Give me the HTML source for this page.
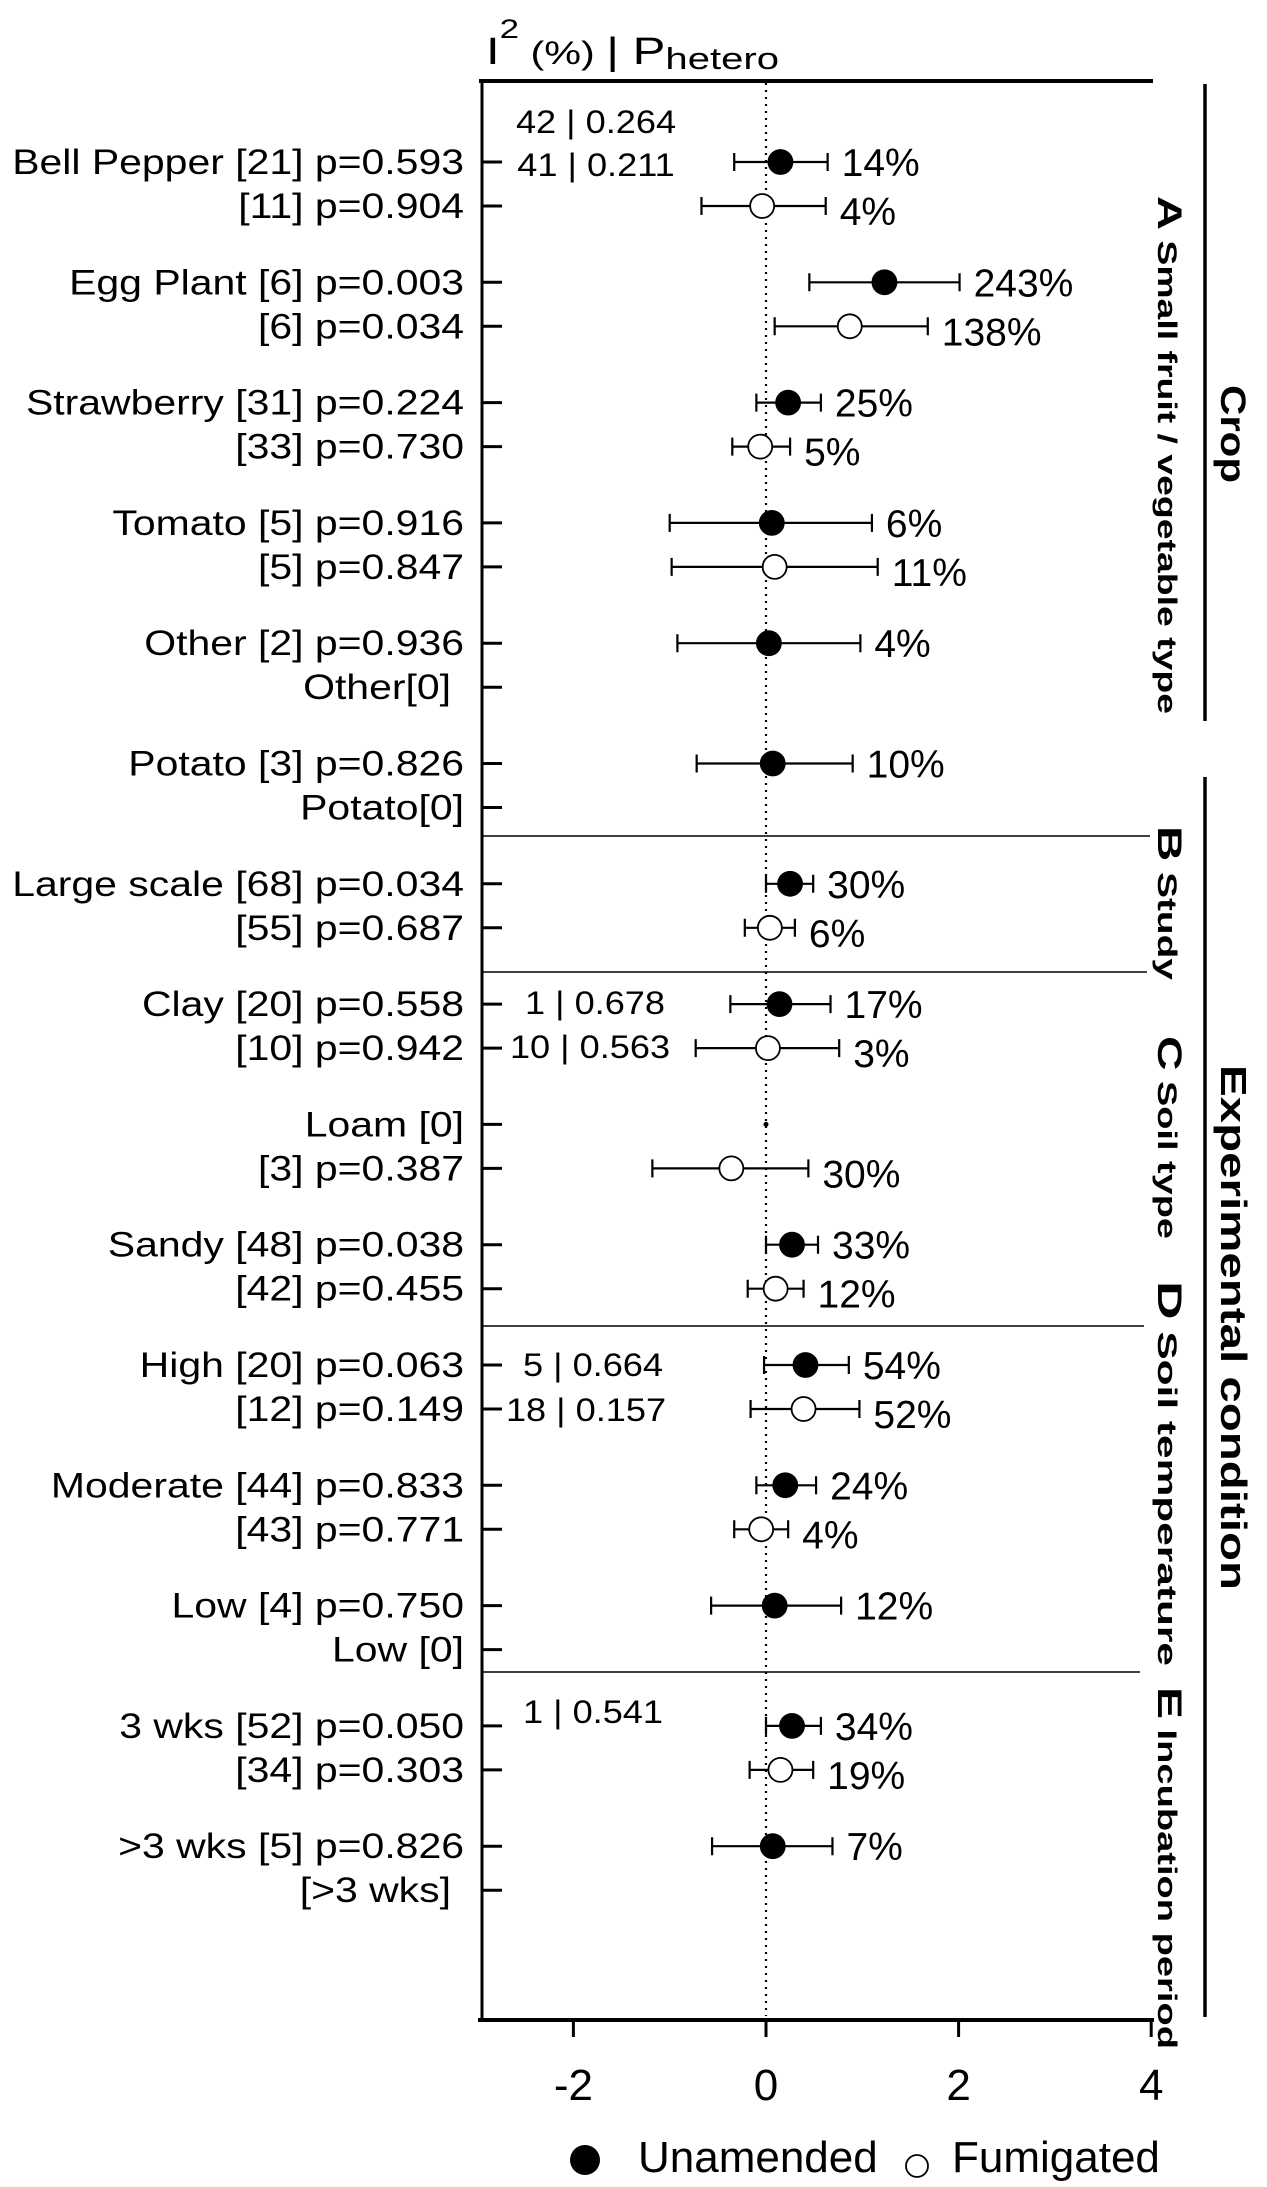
<!DOCTYPE html>
<html><head><meta charset="utf-8"><style>
html,body{margin:0;padding:0;background:#fff;}
svg{display:block;font-family:"Liberation Sans",Arial,sans-serif;}
</style></head><body>
<svg id="chart" width="1267" height="2187" viewBox="0 0 1267 2187" xmlns="http://www.w3.org/2000/svg">
  <g>
    <text x="486" y="64" font-size="38" textLength="293" lengthAdjust="spacingAndGlyphs">I<tspan font-size="27" dy="-26">2</tspan><tspan font-size="32" dy="26"> (%) </tspan><tspan font-size="38">| P</tspan><tspan font-size="31" dy="5">hetero</tspan></text>
  </g>
  <line x1="479" y1="81" x2="1153" y2="81" stroke="#000" stroke-width="4"/>
  <line x1="482" y1="79" x2="482" y2="2021" stroke="#000" stroke-width="3"/>
  <line x1="478" y1="2020" x2="1154" y2="2020" stroke="#000" stroke-width="4"/>
  <g id="sections">
    <line x1="482" y1="836" x2="1150" y2="836" stroke="#000" stroke-width="1.6"/>
    <line x1="482" y1="972" x2="1147" y2="972" stroke="#000" stroke-width="1.6"/>
    <line x1="482" y1="1326" x2="1144" y2="1326" stroke="#000" stroke-width="1.6"/>
    <line x1="482" y1="1672" x2="1140" y2="1672" stroke="#000" stroke-width="1.6"/>
  </g>
  <g id="xaxis"></g>
  <g id="refline"></g>
  <g id="ticks"></g>
  <g id="labels"></g>
  <g id="marks"></g>
  <g font-size="32">
    <text transform="translate(596,133) scale(1.13,1)" text-anchor="middle">42 | 0.264</text>
    <text transform="translate(596,176) scale(1.13,1)" text-anchor="middle">41 | 0.211</text>
    <text transform="translate(595,1014) scale(1.13,1)" text-anchor="middle">1 | 0.678</text>
    <text transform="translate(590,1058) scale(1.13,1)" text-anchor="middle">10 | 0.563</text>
    <text transform="translate(593,1376) scale(1.13,1)" text-anchor="middle">5 | 0.664</text>
    <text transform="translate(586,1421) scale(1.13,1)" text-anchor="middle">18 | 0.157</text>
    <text transform="translate(593,1723) scale(1.13,1)" text-anchor="middle">1 | 0.541</text>
  </g>
  <g font-weight="bold">
    <line x1="1205" y1="84" x2="1205" y2="721" stroke="#000" stroke-width="3.5"/>
    <line x1="1205" y1="777" x2="1205" y2="2017" stroke="#000" stroke-width="3.5"/>
    <text transform="translate(1221,385) rotate(90)" font-size="35" textLength="98" lengthAdjust="spacingAndGlyphs">Crop</text>
    <text transform="translate(1221,1065) rotate(90)" font-size="36" textLength="525" lengthAdjust="spacingAndGlyphs">Experimental condition</text>
    <text transform="translate(1158,196) rotate(90)" font-size="27" textLength="518" lengthAdjust="spacingAndGlyphs"><tspan font-size="34">A</tspan> Small fruit / vegetable type</text>
    <text transform="translate(1158,826) rotate(90)" font-size="27" textLength="154" lengthAdjust="spacingAndGlyphs"><tspan font-size="34">B</tspan> Study</text>
    <text transform="translate(1158,1036) rotate(90)" font-size="27" textLength="203" lengthAdjust="spacingAndGlyphs"><tspan font-size="34">C</tspan> Soil type</text>
    <text transform="translate(1158,1281) rotate(90)" font-size="27" textLength="385" lengthAdjust="spacingAndGlyphs"><tspan font-size="34">D</tspan> Soil temperature</text>
    <text transform="translate(1158,1687) rotate(90)" font-size="27" textLength="362" lengthAdjust="spacingAndGlyphs"><tspan font-size="34">E</tspan> Incubation period</text>
  </g>
  <g>
    <circle cx="585" cy="2160" r="15" fill="#000"/>
    <text x="638" y="2172" font-size="44">Unamended</text>
    <circle cx="917" cy="2166" r="11" fill="#fff" stroke="#000" stroke-width="1.8"/>
    <text x="952" y="2172" font-size="44">Fumigated</text>
  </g>
</svg>
<script>
const rowLabelsA = ["Bell Pepper [21] p=0.593","Egg Plant [6] p=0.003","Strawberry [31] p=0.224","Tomato [5] p=0.916","Other [2] p=0.936","Potato [3] p=0.826","Large scale [68] p=0.034","Clay  [20] p=0.558","Loam [0]","Sandy [48] p=0.038","High [20] p=0.063","Moderate [44] p=0.833","Low [4] p=0.750","3 wks [52] p=0.050",">3 wks [5] p=0.826"];
const rowLabelsB = ["[11] p=0.904","[6] p=0.034","[33] p=0.730","[5] p=0.847","Other[0]","Potato[0]","[55] p=0.687","[10] p=0.942","[3] p=0.387","[42] p=0.455","[12] p=0.149","[43] p=0.771","Low [0]","[34] p=0.303","[>3 wks]"];
const unEst = [0.15,1.23,0.23,0.06,0.03,0.07,0.25,0.14,0,0.27,0.41,0.20,0.09,0.27,0.07];
const unLo  = [-0.33,0.45,-0.10,-1.00,-0.92,-0.72,0.00,-0.37,null,0.00,-0.02,-0.10,-0.57,0.00,-0.56];
const unHi  = [0.64,2.01,0.57,1.10,0.98,0.90,0.49,0.67,null,0.54,0.86,0.52,0.78,0.57,0.69];
const unPct = ["14%","243%","25%","6%","4%","10%","30%","17%",null,"33%","54%","24%","12%","34%","7%"];
const fuEst = [-0.04,0.87,-0.06,0.09,null,null,0.04,0.02,-0.36,0.10,0.39,-0.05,null,0.15,null];
const fuLo  = [-0.67,0.09,-0.35,-0.98,null,null,-0.22,-0.73,-1.18,-0.19,-0.16,-0.33,null,-0.17,null];
const fuHi  = [0.62,1.68,0.25,1.16,null,null,0.30,0.76,0.44,0.39,0.97,0.23,null,0.49,null];
const fuPct = ["4%","138%","5%","11%",null,null,"6%","3%","30%","12%","52%","4%",null,"19%",null];
const xTicks = [-2,0,2,4];
const xTickLabels = ["-2","0","2","4"];

const NS = "http://www.w3.org/2000/svg";
function xs(v){ return 766 + v*96.3; }
function yA(i){ return 162 + i*120.3; }
function yB(i){ return yA(i) + 44; }
function mk(tag, attrs, parent){
  const e = document.createElementNS(NS, tag);
  for (const k in attrs) e.setAttribute(k, attrs[k]);
  parent.appendChild(e);
  return e;
}
const gx = document.getElementById('xaxis');
xTicks.forEach((t,i)=>{
  const l = mk('line',{x1:xs(t),x2:xs(t),y1:2020,y2:2037,stroke:'#000','stroke-width':3},gx);
  
  
  const tx = mk('text',{x:xs(t),y:2100,'font-size':44,'text-anchor':'middle'},gx);
  tx.textContent = xTickLabels[i];
  
  
});
const gr = document.getElementById('refline');
const rl = mk('line',{x1:xs(0),x2:xs(0),y1:83,y2:2016,stroke:'#000','stroke-width':2.2,'stroke-dasharray':'2 5'},gr);



const gt = document.getElementById('ticks');
const gl = document.getElementById('labels');
const gm = document.getElementById('marks');
function rowLabel(txt, y, right){
  const t = mk('text',{transform:`translate(${right},${y+12}) scale(1.17,1)`,'font-size':35,'text-anchor':'end'},gl);
  t.textContent = txt;
  
  
}
function drawSeries(est, lo, hi, pct, i, y, filled){
  if (est[i] === null) return;
  if (lo[i] === null) {
    const d = mk('circle',{cx:xs(est[i]),cy:y,r:2.5,fill:'#000'},gm);
    
    
    return;
  }
  const x1 = xs(lo[i]), x2 = xs(hi[i]);
  const ci = mk('path',{d:`M${x1},${y}H${x2}M${x1},${y-9}V${y+9}M${x2},${y-9}V${y+9}`,stroke:'#000','stroke-width':2.2,fill:'none'},gm);
  
  
  const c = mk('circle',{cx:xs(est[i]),cy:y,r:12,fill:filled?'#000':'#fff',stroke:'#000','stroke-width':1.8},gm);
  
  
  if (pct[i]) {
    const t = mk('text',{x:x2+14,y:y+(filled?14:19),'font-size':39},gm);
    t.textContent = pct[i];
    
    
  }
}
const rightEdgeB = ["Other[0]","[>3 wks]"];
rowLabelsA.forEach((lab,i)=>{
  const ya = yA(i), yb = yB(i);
  [ya,yb].forEach(y=>{
    const tk = mk('line',{x1:482,x2:502,y1:y,y2:y,stroke:'#000','stroke-width':3},gt);
    
    
  });
  rowLabel(lab, ya, 464);
  rowLabel(rowLabelsB[i], yb, rightEdgeB.includes(rowLabelsB[i]) ? 451 : 464);
  drawSeries(unEst, unLo, unHi, unPct, i, ya, true);
  drawSeries(fuEst, fuLo, fuHi, fuPct, i, yb, false);
});
</script>
</body></html>
